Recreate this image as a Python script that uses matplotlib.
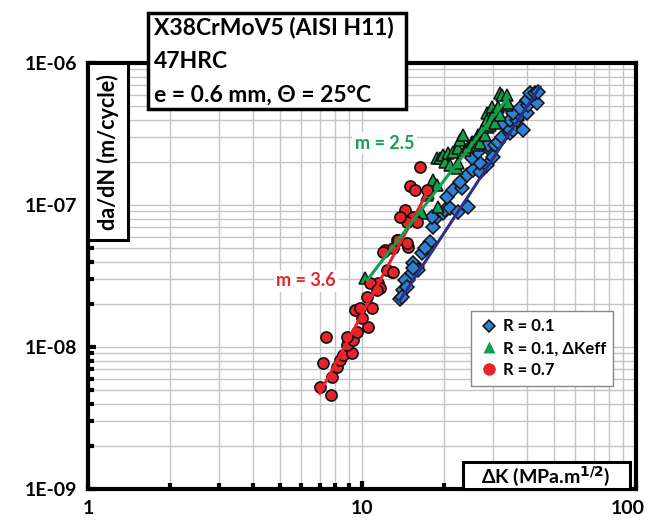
import numpy as np
import matplotlib
matplotlib.use('Agg')
import matplotlib.pyplot as plt
from matplotlib.patches import Rectangle
from matplotlib.lines import Line2D
from matplotlib.transforms import ScaledTranslation

plt.rcParams['font.family'] = ['Lato', 'DejaVu Sans']

# R = 0.1 (blue diamonds)
dk_r01 = [13.76, 14.15, 14.76, 15.18, 15.84, 15.39, 16.52, 17.46, 18.21, 18.74, 19.80, 20.09,
          20.95, 24.43, 20.38, 21.54, 23.12, 22.79, 24.11, 25.48, 26.96, 28.52, 26.96, 25.14,
          26.58, 29.32, 28.91, 30.58, 31.44, 32.35, 34.68, 35.66, 33.74, 32.79, 34.68, 36.69,
          37.72, 38.78, 35.66, 39.92, 37.72, 40.46, 39.92, 43.42, 41.63, 41.04, 42.80, 44.0,
          30.15, 22.46, 17.97, 17.71, 16.98, 16.05, 14.35, 14.56, 13.96, 15.39]
da_r01 = [2.17e-8, 2.52e-8, 2.96e-8, 3.30e-8, 3.68e-8, 3.89e-8, 4.57e-8, 5.23e-8, 7.03e-8, 8.27e-8,
          8.74e-8, 9.22e-8, 9.48e-8, 9.73e-8, 1.14e-7, 1.27e-7, 1.31e-7, 1.46e-7, 1.63e-7, 1.76e-7,
          1.72e-7, 1.91e-7, 1.97e-7, 2.13e-7, 2.37e-7, 2.44e-7, 2.65e-7, 2.65e-7, 2.79e-7, 3.03e-7,
          3.20e-7, 3.37e-7, 3.56e-7, 3.76e-7, 3.97e-7, 3.97e-7, 4.30e-7, 3.37e-7, 4.42e-7, 4.42e-7,
          4.80e-7, 5.06e-7, 5.49e-7, 5.20e-7, 5.95e-7, 6.18e-7, 6.12e-7, 6.28e-7, 2.19e-7, 8.97e-8,
          8.27e-8, 5.51e-8, 4.95e-8, 3.48e-8, 2.96e-8, 2.66e-8, 2.26e-8, 3.58e-8]

# R = 0.1, dKeff (green triangles)
dk_eff = [10.25, 16.52, 17.22, 17.46, 17.97, 18.21, 18.74, 18.99, 18.74, 19.26, 19.80, 20.09,
          20.65, 20.95, 21.54, 22.16, 22.46, 22.46, 22.79, 23.43, 23.76, 24.43, 25.14, 25.48,
          26.22, 26.58, 26.96, 27.35, 28.11, 28.52, 28.52, 28.91, 29.32, 29.75, 30.15, 30.58,
          31.44, 31.89, 31.89, 32.35, 33.74, 33.91, 34.20]
da_eff = [3.06e-8, 8.74e-8, 1.18e-7, 1.21e-7, 1.38e-7, 1.50e-7, 1.38e-7, 9.73e-8, 2.13e-7, 2.13e-7,
          2.25e-7, 2.02e-7, 2.31e-7, 1.91e-7, 2.37e-7, 1.81e-7, 2.51e-7, 1.97e-7, 2.87e-7, 3.11e-7,
          2.44e-7, 2.57e-7, 2.79e-7, 2.79e-7, 2.65e-7, 3.11e-7, 2.72e-7, 3.37e-7, 3.11e-7, 4.42e-7,
          3.97e-7, 3.56e-7, 3.66e-7, 4.92e-7, 4.30e-7, 3.76e-7, 4.92e-7, 4.30e-7, 6.12e-7, 5.95e-7,
          5.95e-7, 5.06e-7, 5.20e-7]

# R = 0.7 (red circles)
dk_r07 = [7.37, 7.22, 7.02, 7.69, 7.75, 8.08, 8.31, 8.55, 9.17, 8.80, 9.30, 8.80, 9.56, 10.54,
          9.97, 9.43, 10.85, 10.4, 11.47, 11.63, 12.84, 12.13, 13.01, 14.76, 13.39, 16.28, 14.97,
          15.61, 17.22, 14.35, 15.39, 15.84, 14.56, 13.76, 13.57, 14.56, 11.96, 12.31, 13.01,
          10.7, 11.31, 9.83]
da_r07 = [1.18e-8, 7.75e-9, 5.25e-9, 4.59e-9, 6.18e-9, 7.26e-9, 8.10e-9, 8.79e-9, 9.03e-9, 1.03e-8,
          1.12e-8, 1.18e-8, 1.28e-8, 1.38e-8, 1.59e-8, 1.82e-8, 1.87e-8, 2.26e-8, 2.81e-8, 2.59e-8,
          3.39e-8, 4.82e-8, 4.95e-8, 5.08e-8, 5.67e-8, 1.84e-7, 1.35e-7, 1.27e-7, 1.27e-7, 9.22e-8,
          8.27e-8, 7.63e-8, 7.63e-8, 8.27e-8, 5.67e-8, 5.37e-8, 4.69e-8, 3.48e-8, 3.39e-8, 2.81e-8,
          2.52e-8, 1.87e-8]

# Paris law fits: (C, m, dK range)
fit_r01 = (9.6e-12, 2.94, (13.76, 44.6))
fit_eff = (8.4e-11, 2.5, (10.45, 34.2))
fit_r07 = (4.28e-12, 3.6, (7.0, 17.4))

c_blue = '#2F80D0'
c_green = '#12A04A'
c_red = '#E8232A'

fig = plt.figure(figsize=(6.5, 5.25), dpi=100)
ax = fig.add_axes([88/650, 1-489/525, 548/650, 426/525])
ax.set_xscale('log')
ax.set_yscale('log')
ax.set_xlim(1, 100)
ax.set_ylim(1e-9, 1e-6)

ax.grid(True, which='both', color='#C4C4C4', lw=1)
ax.set_axisbelow(True)

ax.plot(dk_r01, da_r01, 'D', ms=7, mfc=c_blue, mec='#111111', mew=1.1, zorder=3)
ax.plot(dk_eff, da_eff, '^', ms=8.5, mfc=c_green, mec='#111111', mew=1.1, zorder=3)
ax.plot(dk_r07, da_r07, 'o', ms=8, mfc=c_red, mec='#111111', mew=1.2, zorder=3)

for (C, m, (k0, k1)), col in [(fit_r01, '#2A2F8A'), (fit_r07, c_red), (fit_eff, c_green)]:
    k = np.array([k0, k1])
    ax.plot(k, C * k**m, color=col, lw=2.2, zorder=4)

ax.text(12.1, 2.72e-7, 'm = 2.5', color=c_green, fontsize=13, fontweight='bold',
        ha='center', va='center', bbox=dict(fc='white', ec='none', pad=2), zorder=5)
ax.text(6.25, 2.92e-8, 'm = 3.6', color=c_red, fontsize=13, fontweight='bold',
        ha='center', va='center', bbox=dict(fc='white', ec='none', pad=2), zorder=5)

for s in ax.spines.values():
    s.set_linewidth(3)
ax.tick_params(which='both', direction='in', width=3, color='black', top=False, right=False)
ax.tick_params(which='major', length=6, labelsize=14, pad=8)
ax.tick_params(which='minor', length=4)
ax.set_xticks([1, 10, 100])
ax.set_xticklabels(['1', '10', '100'])
ax.set_yticks([1e-9, 1e-8, 1e-7, 1e-6])
ax.set_yticklabels(['1E-09', '1E-08', '1E-07', '1E-06'])
for lab in ax.get_xticklabels() + ax.get_yticklabels():
    lab.set_fontweight('bold')
last = ax.get_xticklabels()[-1]
last.set_transform(last.get_transform() + ScaledTranslation(-8/100, 0, fig.dpi_scale_trans))

# y-label box
ax.add_patch(Rectangle((88/650, 1-240/525), 40/650, 177/525, transform=fig.transFigure,
                       fc='white', ec='black', lw=2.2, zorder=10, clip_on=False))
fig.text(108/650, 1-152/525, 'da/dN (m/cycle)', rotation=90, ha='center', va='center',
         fontsize=15.5, fontweight='bold', zorder=11)

# x-label box
ax.add_patch(Rectangle((463/650, 1-489/525), 167/650, 27/525, transform=fig.transFigure,
                       fc='white', ec='black', lw=2.2, zorder=10, clip_on=False))
fig.text(546/650, 1-476/525, r'ΔK (MPa.m$^{\mathbf{1/2}}$)', ha='center', va='center',
         fontsize=14, fontweight='bold', zorder=11)

# title box
ax.add_patch(Rectangle((148/650, 1-109/525), 258/650, 96/525, transform=fig.transFigure,
                       fc='white', ec='black', lw=2.5, zorder=10, clip_on=False))
for i, line in enumerate(['X38CrMoV5 (AISI H11)', '47HRC', 'e = 0.6 mm, Θ = 25°C']):
    fig.text(154/650, 1-(28 + 33.5*i)/525, line, ha='left', va='center', fontsize=16.5,
             fontweight='bold', zorder=11)

handles = [Line2D([], [], ls='none', marker='D', ms=6.5, mfc=c_blue, mec='#111111', mew=1.1),
           Line2D([], [], ls='none', marker='^', ms=9, mfc=c_green, mec='none'),
           Line2D([], [], ls='none', marker='o', ms=9, mfc=c_red, mec='none')]
leg = ax.legend(handles, ['R = 0.1', 'R = 0.1, ΔKeff', 'R = 0.7'],
                loc='upper left', bbox_to_anchor=(471/650, 1-311/525),
                bbox_transform=fig.transFigure, fontsize=12, fancybox=False,
                framealpha=1, edgecolor='#888888', handletextpad=0.15, handlelength=1.3,
                borderpad=0.45, labelspacing=0.35, borderaxespad=0)
leg.get_frame().set_linewidth(1)
for t in leg.get_texts():
    t.set_fontweight('bold')
leg.set_zorder(12)

fig.savefig('out.png', dpi=100)
